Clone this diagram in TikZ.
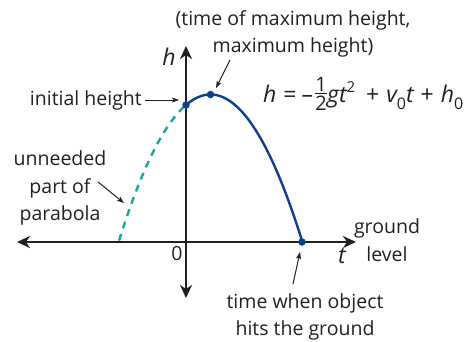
\documentclass[tikz,border=0pt]{standalone}
\usepackage{fontspec}
\setmainfont{Open Sans}
\usetikzlibrary{arrows.meta}
\definecolor{ink}{HTML}{231F20}
\definecolor{curveblue}{HTML}{0F3E8C}
\definecolor{teal}{HTML}{17A99A}
\newcommand\myhalf{\raisebox{-8pt}{\fontsize{20}{20}\selectfont\vbox{\hbox to 12pt{\hss 1\hss}\kern1.6pt\hrule height 0.8pt\kern1.8pt\hbox to 12pt{\hss 2\hss}}}}
\newcommand\opsp[1]{\hspace{#1pt}}
\newcommand\mysub[1]{\raisebox{-7pt}{\fontsize{16}{16}\selectfont #1}}
\newcommand\mysup[1]{\raisebox{9.5pt}{\fontsize{15}{15}\selectfont #1}}
\begin{document}
\begin{tikzpicture}[x=1pt,y=-1pt,
  axis/.style={line width=2.4pt,draw=ink,-{Stealth[length=13pt,width=12pt,inset=4pt]}},
  note/.style={line width=1pt,draw=ink,-{Stealth[length=7pt,width=5pt,inset=1.5pt]}},
  lbl/.style={font=\fontsize{19.5}{27.5}\selectfont,text=ink,inner sep=0pt,align=center},
  mlbl/.style={font=\fontsize{23}{27.5}\selectfont\itshape,text=ink,inner sep=0pt},
  dot/.style={circle,fill=curveblue,inner sep=0pt,minimum size=7.5pt}]
\useasboundingbox (0,0) rectangle (466,341);
\coordinate (O) at (186,242);
\coordinate (xl) at (17,242);
\coordinate (xr) at (356,242);
\coordinate (yt) at (186,46);
\coordinate (yb) at (186,298);
\draw[axis] (O) -- (xl);
\draw[axis] (O) -- (xr);
\draw[axis] (O) -- (yt);
\draw[axis] (O) -- (yb);
% parabola
\draw[teal,line width=2.4pt,dash pattern=on 7pt off 6pt]
  plot[domain=119:186,samples=40] (\x,{94.5+0.01745*(\x-210.5)^2});
\draw[curveblue,line width=2.4pt]
  plot[domain=186:302,samples=60] (\x,{94.5+0.01745*(\x-210.5)^2});
\node[dot] (p0) at (186,{94.5+0.01745*24.5*24.5}) {};
\node[dot] (pm) at (210.5,94.5) {};
\node[dot] (pg) at (302,242) {};
% labels
\node[mlbl] (hlab) at (169,57) {h};
\node[lbl] (zero) at (177,254) {0};
\node[mlbl] (tlab) at (342,256) {t};
\node[lbl,anchor=east] (init) at (142,100) {initial height};
\coordinate (ia) at (145,100);
\coordinate (ib) at (179,100);
\draw[note] (ia) -- (ib);
\node[lbl] (maxl) at (293,34) {(time of maximum height,\\maximum height)};
\coordinate (ma) at (230,60);
\coordinate (mb) at (216,88);
\draw[note] (ma) -- (mb);
\node[mlbl,anchor=base west] (eq) at (263,102) {h\opsp{7}\upshape=\opsp{5}–\opsp{2}\myhalf\itshape gt\mysup{\upshape 2}\opsp{11}\upshape+\opsp{7}\itshape v\mysub{\upshape 0}t\opsp{7}\upshape+\opsp{7}\itshape h\mysub{\upshape 0}};
\node[lbl] (unn) at (60,188) {unneeded\\part of\\parabola};
\coordinate (ua) at (98,182);
\coordinate (ub) at (124,203);
\draw[note] (ua) -- (ub);
\node[lbl] (gl) at (387,240) {ground\\level};
\node[lbl] (hit) at (305,317) {time when object\\hits the ground};
\coordinate (ha) at (293,284);
\coordinate (hb) at (300,252);
\draw[note] (ha) -- (hb);
\end{tikzpicture}
\end{document}
